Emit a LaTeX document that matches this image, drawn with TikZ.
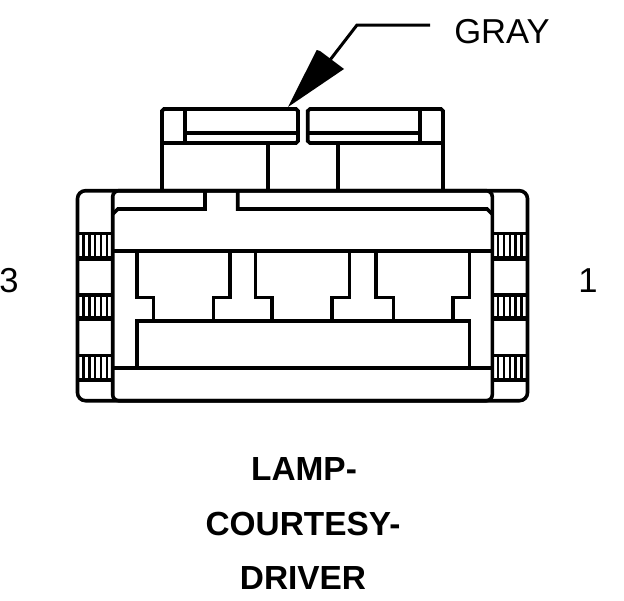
\documentclass[tikz,border=0pt]{standalone}
\usepackage{fontspec}
\setmainfont{Liberation Sans}
\tikzset{
	wall/.style={line width=3.6pt},
	rib/.style={line width=2.6pt},
	pointer/.style={line width=3pt},
	arrowfill/.style={fill=black},
	plain/.style={anchor=base,inner sep=0pt,font=\fontsize{34.6}{38}\selectfont},
	heavy/.style={anchor=base,inner sep=0pt,font=\fontsize{33.4}{38}\selectfont\bfseries}
}
\begin{document}
\begin{tikzpicture}[x=1pt,y=-1pt]

	\useasboundingbox (0,0) rectangle (624,600);

	% ---- parameters

	\def\shellL{77.5}
	\def\shellR{527.5}
	\def\bodyL{112.7}
	\def\bodyR{492.3}
	\def\shellT{190.7}
	\def\shellB{400.7}

	% ---- locking tabs

	\draw[wall] (162,190) -- (162,111) -- (164,109) -- (296,109) -- (298,111) -- (298,141) -- (296,143) -- (162,143);
	\draw[wall] (185,109) -- (185,143);
	\draw[wall] (185,132.7) -- (298,132.7);
	\draw[wall] (268,143) -- (268,190);

	\draw[wall] (443,190) -- (443,111) -- (441,109) -- (310,109) -- (307.7,111) -- (307.7,141) -- (310,143) -- (443,143);
	\draw[wall] (420,109) -- (420,143);
	\draw[wall] (307.7,132.7) -- (420,132.7);
	\draw[wall] (338,143) -- (338,190);

	% ---- outer shell and body

	\draw[wall,rounded corners=8pt] (\shellL,\shellT) rectangle (\shellR,\shellB);
	\draw[wall,rounded corners=6pt] (\bodyL,\shellT) rectangle (\bodyR,\shellB);

	% ---- top rail with notch

	\draw[wall] (\bodyL,214) -- (118,209) -- (205,209) -- (205,191);
	\draw[wall] (237.7,191) -- (237.7,209) -- (487,209) -- (\bodyR,214);

	% ---- cavity floor and ceiling

	\draw[wall] (\bodyL,250.7) -- (\bodyR,250.7);
	\draw[wall] (\bodyL,367.7) -- (\bodyR,367.7);

	% ---- terminal outline

	\draw[wall] (136.7,250.7) -- (136.7,297.3) -- (153.3,297.3) -- (153.3,320.7);
	\draw[wall] (230,250.7) -- (230,297.3) -- (213.3,297.3) -- (213.3,320.7);
	\draw[wall] (255.3,250.7) -- (255.3,297.3) -- (272,297.3) -- (272,320.7);
	\draw[wall] (349.3,250.7) -- (349.3,297.3) -- (331.7,297.3) -- (331.7,320.7);
	\draw[wall] (376,250.7) -- (376,297.3) -- (393.3,297.3) -- (393.3,320.7);
	\draw[wall] (469.3,250.7) -- (469.3,297.3) -- (452.7,297.3) -- (452.7,320.7);
	\draw[wall] (136.7,367.7) -- (136.7,320.7) -- (469.3,320.7) -- (469.3,367.7);

	% ---- side ribs

	\foreach \ytop/\ybot in {233.5/258.5,295/318.5,355.5/380} {
		\draw[wall] (\shellL,\ytop) -- (\bodyL,\ytop);
		\draw[line width=4.5pt] (\shellL,\ybot) -- (\bodyL,\ybot);
		\draw[wall] (\bodyR,\ytop) -- (\shellR,\ytop);
		\draw[line width=4.5pt] (\bodyR,\ybot) -- (\shellR,\ybot);
		\foreach \i in {1,...,5} {
			\draw[rib] ({\shellL+5.87*\i},\ytop) -- ({\shellL+5.87*\i},\ybot);
			\draw[rib] ({\bodyR+5.87*\i},\ytop) -- ({\bodyR+5.87*\i},\ybot);
		}
	}

	% ---- labels

	\node[plain] (gray) at (502,43.3) {GRAY};
	\node[plain] (pinthree) at (9,292) {3};
	\node[plain] (pinone) at (588,292) {1};
	\node[heavy] (lamp) at (304,480.7) {LAMP-};
	\node[heavy] (courtesy) at (303,535) {COURTESY-};
	\node[heavy] (driver) at (303,589) {DRIVER};

	% ---- pointer

	\coordinate (lead) at (430,25);
	\coordinate (knee) at (357,25);
	\coordinate (neck) at (330,60);
	\coordinate (tip) at (288,107);

	\draw[pointer] (lead) -- (knee) -- (neck);
	\fill[arrowfill] (tip) -- (316.7,50) -- (320,51) -- (344,69) -- cycle;

\end{tikzpicture}
\end{document}
